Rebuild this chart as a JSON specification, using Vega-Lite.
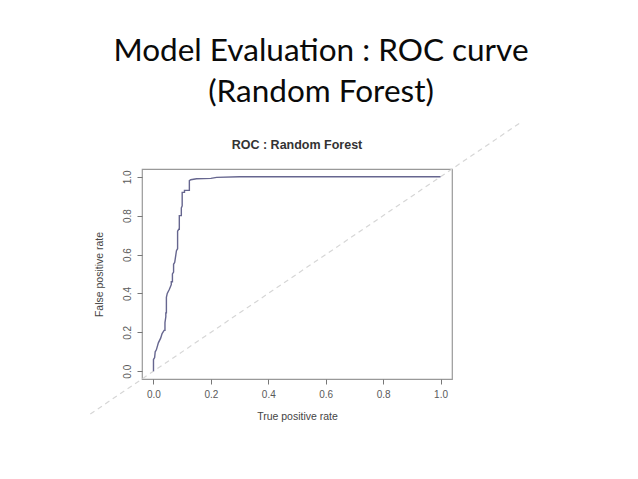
{
  "$schema": "https://vega.github.io/schema/vega-lite/v6.json",
  "width": 310,
  "height": 210,
  "autosize": {"type": "none"},
  "padding": {"left": 142, "top": 169, "right": 186, "bottom": 100},
  "background": "white",
  "title": {
    "text": ["Model Evaluation : ROC curve", "(Random Forest)"],
    "anchor": "middle",
    "frame": "group",
    "dx": 24,
    "font": "Lato",
    "fontSize": 31.5,
    "fontWeight": "normal",
    "color": "#0a0a0a",
    "lineHeight": 41,
    "offset": 11
  },
  "config": {
    "view": {"stroke": "#999999", "strokeWidth": 1.2},
    "axis": {
      "domain": false,
      "grid": false,
      "tickColor": "#777777",
      "tickSize": 5,
      "tickWidth": 1,
      "labelFont": "Liberation Sans",
      "labelFontSize": 10,
      "labelColor": "#5a5a5a",
      "titleFont": "Liberation Sans",
      "titleFontSize": 10.5,
      "titleFontWeight": "normal",
      "titleColor": "#444444"
    },
    "axisX": {"labelPadding": 5, "titlePadding": 12},
    "axisY": {"labelPadding": 5, "titlePadding": 18, "labelAngle": -90, "labelAlign": "center", "labelBaseline": "bottom"}
  },
  "datasets": {
    "roc": [
      {"fpr": 0, "tpr": 0},
      {"fpr": 0, "tpr": 0.06},
      {"fpr": 0.004, "tpr": 0.07},
      {"fpr": 0.006, "tpr": 0.1},
      {"fpr": 0.01, "tpr": 0.11},
      {"fpr": 0.017, "tpr": 0.146},
      {"fpr": 0.025, "tpr": 0.17},
      {"fpr": 0.03, "tpr": 0.194},
      {"fpr": 0.037, "tpr": 0.21},
      {"fpr": 0.04, "tpr": 0.21},
      {"fpr": 0.04, "tpr": 0.25},
      {"fpr": 0.043, "tpr": 0.28},
      {"fpr": 0.043, "tpr": 0.3},
      {"fpr": 0.045, "tpr": 0.3},
      {"fpr": 0.045, "tpr": 0.38},
      {"fpr": 0.048, "tpr": 0.4},
      {"fpr": 0.055, "tpr": 0.42},
      {"fpr": 0.062, "tpr": 0.445},
      {"fpr": 0.062, "tpr": 0.46},
      {"fpr": 0.066, "tpr": 0.46},
      {"fpr": 0.066, "tpr": 0.5},
      {"fpr": 0.07, "tpr": 0.51},
      {"fpr": 0.07, "tpr": 0.55},
      {"fpr": 0.074, "tpr": 0.56},
      {"fpr": 0.078, "tpr": 0.6},
      {"fpr": 0.08, "tpr": 0.62},
      {"fpr": 0.084, "tpr": 0.63},
      {"fpr": 0.084, "tpr": 0.72},
      {"fpr": 0.088, "tpr": 0.73},
      {"fpr": 0.09, "tpr": 0.73},
      {"fpr": 0.09, "tpr": 0.8},
      {"fpr": 0.097, "tpr": 0.8},
      {"fpr": 0.097, "tpr": 0.84},
      {"fpr": 0.1, "tpr": 0.85},
      {"fpr": 0.1, "tpr": 0.92},
      {"fpr": 0.108, "tpr": 0.92},
      {"fpr": 0.108, "tpr": 0.93},
      {"fpr": 0.125, "tpr": 0.93},
      {"fpr": 0.125, "tpr": 0.98},
      {"fpr": 0.13, "tpr": 0.985},
      {"fpr": 0.15, "tpr": 0.99},
      {"fpr": 0.2, "tpr": 0.992},
      {"fpr": 0.22, "tpr": 0.997},
      {"fpr": 0.3, "tpr": 1.0},
      {"fpr": 1.0, "tpr": 1.0}
    ],
    "diag": [
      {"fpr": -0.22, "tpr": -0.22},
      {"fpr": 1.28, "tpr": 1.28}
    ],
    "plotTitle": [
      {"label": "ROC : Random Forest"}
    ]
  },
  "layer": [
    {
      "data": {"name": "diag"},
      "mark": {"type": "line", "clip": false, "color": "#d6d6d6", "strokeWidth": 1.2, "strokeDash": [5, 4]},
      "encoding": {
        "x": {"field": "fpr", "type": "quantitative", "scale": {"domain": [-0.04, 1.04], "nice": false, "zero": false}, "axis": {"title": "True positive rate", "values": [0, 0.2, 0.4, 0.6, 0.8, 1], "format": ".1f"}},
        "y": {"field": "tpr", "type": "quantitative", "scale": {"domain": [-0.04, 1.04], "nice": false, "zero": false}, "axis": {"title": "False positive rate", "values": [0, 0.2, 0.4, 0.6, 0.8, 1], "format": ".1f"}}
      }
    },
    {
      "data": {"name": "roc"},
      "mark": {"type": "line", "color": "#66668f", "strokeWidth": 1.4},
      "encoding": {
        "x": {"field": "fpr", "type": "quantitative"},
        "y": {"field": "tpr", "type": "quantitative"}
      }
    },
    {
      "data": {"name": "plotTitle"},
      "mark": {"type": "text", "font": "Liberation Sans", "fontSize": 12.5, "fontWeight": "bold", "color": "#333333", "baseline": "middle", "align": "center", "clip": false},
      "encoding": {
        "x": {"datum": 0.5, "type": "quantitative"},
        "y": {"datum": 1.163, "type": "quantitative"},
        "text": {"field": "label", "type": "nominal"}
      }
    }
  ]
}
